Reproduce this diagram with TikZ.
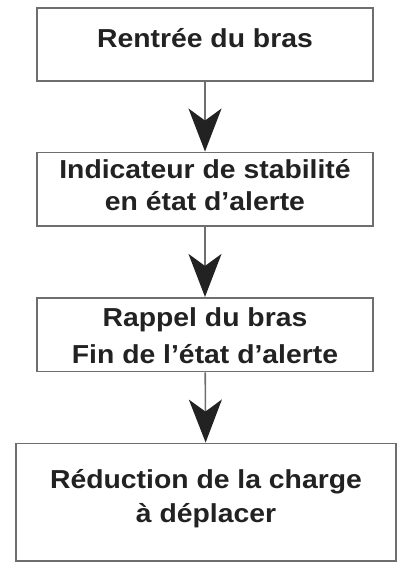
\documentclass[tikz,border=0pt]{standalone}
\usepackage{fontspec}
\newfontfamily\boxfont{Liberation Sans}[FakeStretch=1.09]
\usetikzlibrary{arrows.meta}
\definecolor{boxline}{HTML}{6E6E6E}
\definecolor{boxtext}{HTML}{222222}
\newcommand\boxlines[3]{\raisebox{#1}[\height][\depth]{\def\arraystretch{#2}\begin{tabular}{@{}c@{}}#3\end{tabular}}}
\begin{document}
\begin{tikzpicture}[
        stepbox/.style={draw=boxline, line width=1.6pt, fill=white, inner sep=0pt,
            minimum width=336pt, minimum height=73pt, text=boxtext,
            font=\boxfont\bfseries\fontsize{26}{33}\selectfont},
        flow/.style={draw=boxline, line width=1.6pt,
            -{Stealth[length=43pt, width=33pt, inset=12pt, color=boxtext]}}
    ]
        \useasboundingbox (0,0) rectangle (401pt,-562pt);
        \node[stepbox] (rentree) at (205pt,-44.5pt) {\boxlines{3.8pt}{1}{Rentrée du bras}};
        \node[stepbox, minimum height=73.7pt] (alerte) at (205pt,-189.2pt)
            {\boxlines{1.1pt}{0.97}{Indicateur de stabilité\\en état d’alerte}};
        \node[stepbox, minimum height=72.7pt] (rappel) at (205pt,-334.7pt)
            {\boxlines{-2.9pt}{1.12}{Rappel du bras\\Fin de l’état d’alerte}};
        \node[stepbox, minimum width=380pt, minimum height=117.7pt] (reduction) at (206pt,-502.2pt)
            {\boxlines{3.4pt}{1.01}{Réduction de la charge\\à déplacer}};
        \draw[flow] (rentree) -- (alerte);
        \draw[flow] (alerte) -- (rappel);
        \draw[flow] (rappel) -- (reduction);
    \end{tikzpicture}
\end{document}
